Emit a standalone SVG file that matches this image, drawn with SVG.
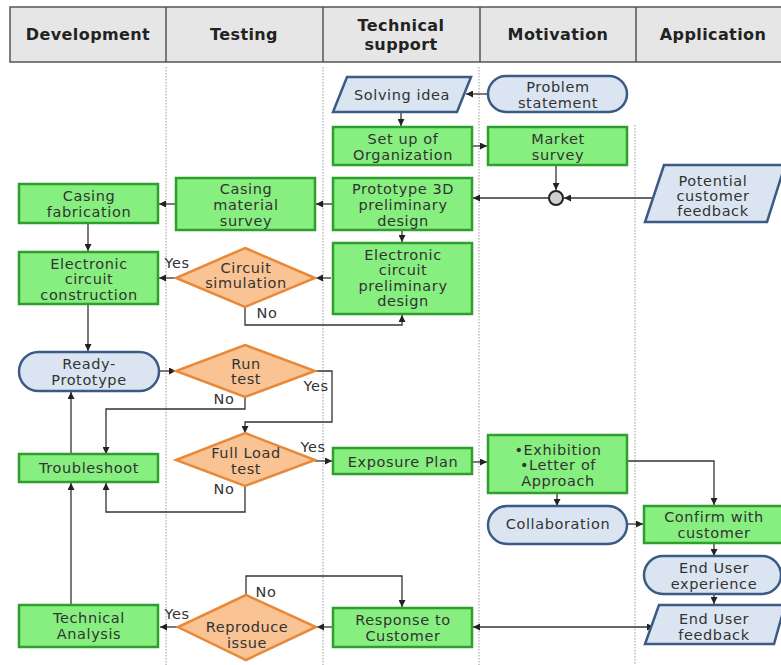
<svg xmlns="http://www.w3.org/2000/svg" width="781" height="665" viewBox="0 0 781 665">
<defs>
<marker id="ah" viewBox="0 0 10 10" refX="10" refY="5" markerWidth="7" markerHeight="7" markerUnits="userSpaceOnUse" orient="auto-start-reverse">
<path d="M0,0 L10,5 L0,10 z" fill="#222"/>
</marker>
<style>
.hdr{fill:#e6e6e6;stroke:#555;stroke-width:1.5}
.ht{font-family:"DejaVu Sans","Liberation Sans",sans-serif;font-weight:bold;font-size:16px;letter-spacing:0.4px;fill:#222;text-anchor:middle;dominant-baseline:central}
.lane{stroke:#aaa;stroke-width:1.2;stroke-dasharray:1.5,1.5}
.g{fill:#86ef7f;stroke:#2f9e2f;stroke-width:2.5}
.b{fill:#dbe5f1;stroke:#3b5a85;stroke-width:2.5}
.d{fill:#f9c394;stroke:#e8893a;stroke-width:2.5}
.t{font-family:"DejaVu Sans","Liberation Sans",sans-serif;font-size:14.5px;letter-spacing:0.6px;fill:#333;text-anchor:middle;dominant-baseline:central}
.c{fill:none;stroke:#333;stroke-width:1.3}
.a{marker-end:url(#ah)}
</style>
</defs>
<rect width="781" height="665" fill="#fff"/>
<g id="header">
<rect class="hdr" x="10" y="7" width="775" height="55"/>
<line x1="166" y1="7" x2="166" y2="62" stroke="#555" stroke-width="1.5"/>
<line x1="323" y1="7" x2="323" y2="62" stroke="#555" stroke-width="1.5"/>
<line x1="480" y1="7" x2="480" y2="62" stroke="#555" stroke-width="1.5"/>
<line x1="636" y1="7" x2="636" y2="62" stroke="#555" stroke-width="1.5"/>
<text class="ht" x="88" y="34">Development</text>
<text class="ht" x="244" y="34">Testing</text>
<text class="ht" x="401" y="25">Technical</text>
<text class="ht" x="401" y="44">support</text>
<text class="ht" x="558" y="34">Motivation</text>
<text class="ht" x="713" y="34">Application</text>
</g>
<g id="lanes">
<line class="lane" x1="166" y1="67" x2="166" y2="665"/>
<line class="lane" x1="323" y1="67" x2="323" y2="665"/>
<line class="lane" x1="479" y1="67" x2="479" y2="665"/>
<line class="lane" x1="635" y1="125" x2="635" y2="665"/>
</g>
<g id="connectors">
<line class="c a" x1="487" y1="94" x2="466" y2="94"/>
<line class="c a" x1="401" y1="112" x2="401" y2="126"/>
<line class="c a" x1="472" y1="146" x2="487" y2="146"/>
<line class="c a" x1="556" y1="165" x2="556" y2="190"/>
<line class="c a" x1="654" y1="198" x2="564" y2="198"/>
<line class="c a" x1="549" y1="198" x2="473" y2="198"/>
<line class="c a" x1="332" y1="204" x2="316" y2="204"/>
<line class="c a" x1="175" y1="204" x2="159" y2="204"/>
<line class="c a" x1="88" y1="223" x2="88" y2="251"/>
<line class="c a" x1="402" y1="230" x2="402" y2="242"/>
<line class="c a" x1="331" y1="278" x2="316" y2="278"/>
<line class="c a" x1="176" y1="278" x2="159" y2="278"/>
<polyline class="c a" points="245,307 245,325 402,325 402,315"/>
<line class="c a" x1="88" y1="304" x2="88" y2="351"/>
<line class="c a" x1="159" y1="371" x2="176" y2="371"/>
<polyline class="c a" points="315,371 332,371 332,422 245,422 245,433"/>
<polyline class="c a" points="245,397 245,409 106,409 106,454"/>
<line class="c a" x1="315" y1="461" x2="332" y2="461"/>
<polyline class="c a" points="245,486 245,512 106,512 106,483"/>
<line class="c a" x1="71" y1="454" x2="71" y2="392"/>
<line class="c a" x1="71" y1="605" x2="71" y2="483"/>
<line class="c a" x1="472" y1="462" x2="487" y2="462"/>
<polyline class="c a" points="627,461 714,461 714,505"/>
<line class="c a" x1="557" y1="493" x2="557" y2="506"/>
<line class="c a" x1="627" y1="524" x2="643" y2="524"/>
<line class="c a" x1="714" y1="543" x2="714" y2="556"/>
<line class="c a" x1="714" y1="595" x2="714" y2="604"/>
<line class="c a" x1="178" y1="627" x2="160" y2="627"/>
<polyline class="c a" points="246,595 246,576 402,576 402,607"/>
<line class="c a" x1="332" y1="627" x2="317" y2="627"/>
<line class="c a" x1="473" y1="627" x2="654" y2="627" marker-start="url(#ah)"/>
<text class="t" x="177" y="263">Yes</text>
<text class="t" x="267" y="313">No</text>
<text class="t" x="316" y="386">Yes</text>
<text class="t" x="224" y="399">No</text>
<text class="t" x="313" y="447">Yes</text>
<text class="t" x="224" y="489">No</text>
<text class="t" x="177" y="614">Yes</text>
<text class="t" x="266" y="592">No</text>
</g>
<g id="solving-idea">
<polygon class="b" points="347,77 471,77 457,112 333,112"/>
<text class="t" x="402" y="95">Solving idea</text>
</g>
<g id="problem-statement">
<rect class="b" x="488" y="76" width="139" height="36" rx="18"/>
<text class="t" x="558" y="87">Problem</text>
<text class="t" x="558" y="103">statement</text>
</g>
<g id="setup-organization">
<rect class="g" x="333" y="127" width="139" height="38"/>
<text class="t" x="403" y="139">Set up of</text>
<text class="t" x="403" y="155">Organization</text>
</g>
<g id="market-survey">
<rect class="g" x="488" y="127" width="139" height="38"/>
<text class="t" x="558" y="139">Market</text>
<text class="t" x="558" y="155">survey</text>
</g>
<g id="merge">
<circle cx="556" cy="198" r="7" fill="#d0d0d0" stroke="#222" stroke-width="2"/>
</g>
<g id="potential-feedback">
<polygon class="b" points="664,165 785,165 767,222 645,222"/>
<text class="t" x="713" y="181">Potential</text>
<text class="t" x="713" y="196">customer</text>
<text class="t" x="713" y="211">feedback</text>
</g>
<g id="prototype-3d">
<rect class="g" x="333" y="178" width="139" height="52"/>
<text class="t" x="403" y="189">Prototype 3D</text>
<text class="t" x="403" y="205">preliminary</text>
<text class="t" x="403" y="221">design</text>
</g>
<g id="casing-material">
<rect class="g" x="176" y="178" width="139" height="52"/>
<text class="t" x="246" y="189">Casing</text>
<text class="t" x="246" y="205">material</text>
<text class="t" x="246" y="221">survey</text>
</g>
<g id="casing-fabrication">
<rect class="g" x="19" y="184" width="139" height="39"/>
<text class="t" x="89" y="196">Casing</text>
<text class="t" x="89" y="212">fabrication</text>
</g>
<g id="electronic-construction">
<rect class="g" x="19" y="252" width="139" height="52"/>
<text class="t" x="89" y="264">Electronic</text>
<text class="t" x="89" y="279">circuit</text>
<text class="t" x="89" y="295">construction</text>
</g>
<g id="electronic-preliminary">
<rect class="g" x="333" y="243" width="139" height="71"/>
<text class="t" x="403" y="255">Electronic</text>
<text class="t" x="403" y="270">circuit</text>
<text class="t" x="403" y="286">preliminary</text>
<text class="t" x="403" y="301">design</text>
</g>
<g id="circuit-simulation">
<polygon class="d" points="245,248 315,278 245,307 176,278"/>
<text class="t" x="246" y="268">Circuit</text>
<text class="t" x="246" y="283">simulation</text>
</g>
<g id="ready-prototype">
<rect class="b" x="19" y="352" width="140" height="39" rx="19.5"/>
<text class="t" x="89" y="364">Ready-</text>
<text class="t" x="89" y="380">Prototype</text>
</g>
<g id="run-test">
<polygon class="d" points="245,345 315,371 245,397 176,371"/>
<text class="t" x="246" y="364">Run</text>
<text class="t" x="246" y="379">test</text>
</g>
<g id="full-load-test">
<polygon class="d" points="245,433 315,460 245,486 176,460"/>
<text class="t" x="246" y="453">Full Load</text>
<text class="t" x="246" y="469">test</text>
</g>
<g id="troubleshoot">
<rect class="g" x="19" y="454" width="139" height="28"/>
<text class="t" x="89" y="468">Troubleshoot</text>
</g>
<g id="exposure-plan">
<rect class="g" x="333" y="448" width="139" height="26"/>
<text class="t" x="403" y="462">Exposure Plan</text>
</g>
<g id="exhibition">
<rect class="g" x="488" y="435" width="139" height="58"/>
<text class="t" x="558" y="450">•Exhibition</text>
<text class="t" x="558" y="465">•Letter of</text>
<text class="t" x="558" y="481">Approach</text>
</g>
<g id="collaboration">
<rect class="b" x="488" y="506" width="139" height="38" rx="19"/>
<text class="t" x="558" y="524">Collaboration</text>
</g>
<g id="confirm-customer">
<rect class="g" x="644" y="506" width="140" height="37"/>
<text class="t" x="714" y="517">Confirm with</text>
<text class="t" x="714" y="533">customer</text>
</g>
<g id="end-user-experience">
<rect class="b" x="644" y="556" width="137" height="38" rx="19"/>
<text class="t" x="714" y="568">End User</text>
<text class="t" x="714" y="584">experience</text>
</g>
<g id="end-user-feedback">
<polygon class="b" points="659,605 785,605 774,644 645,644"/>
<text class="t" x="714" y="619">End User</text>
<text class="t" x="714" y="635">feedback</text>
</g>
<g id="technical-analysis">
<rect class="g" x="19" y="605" width="139" height="42"/>
<text class="t" x="89" y="618">Technical</text>
<text class="t" x="89" y="634">Analysis</text>
</g>
<g id="reproduce-issue">
<polygon class="d" points="246,595 316,627 246,660 178,627"/>
<text class="t" x="247" y="627">Reproduce</text>
<text class="t" x="247" y="643">issue</text>
</g>
<g id="response-customer">
<rect class="g" x="333" y="608" width="139" height="39"/>
<text class="t" x="403" y="620">Response to</text>
<text class="t" x="403" y="636">Customer</text>
</g>
</svg>
